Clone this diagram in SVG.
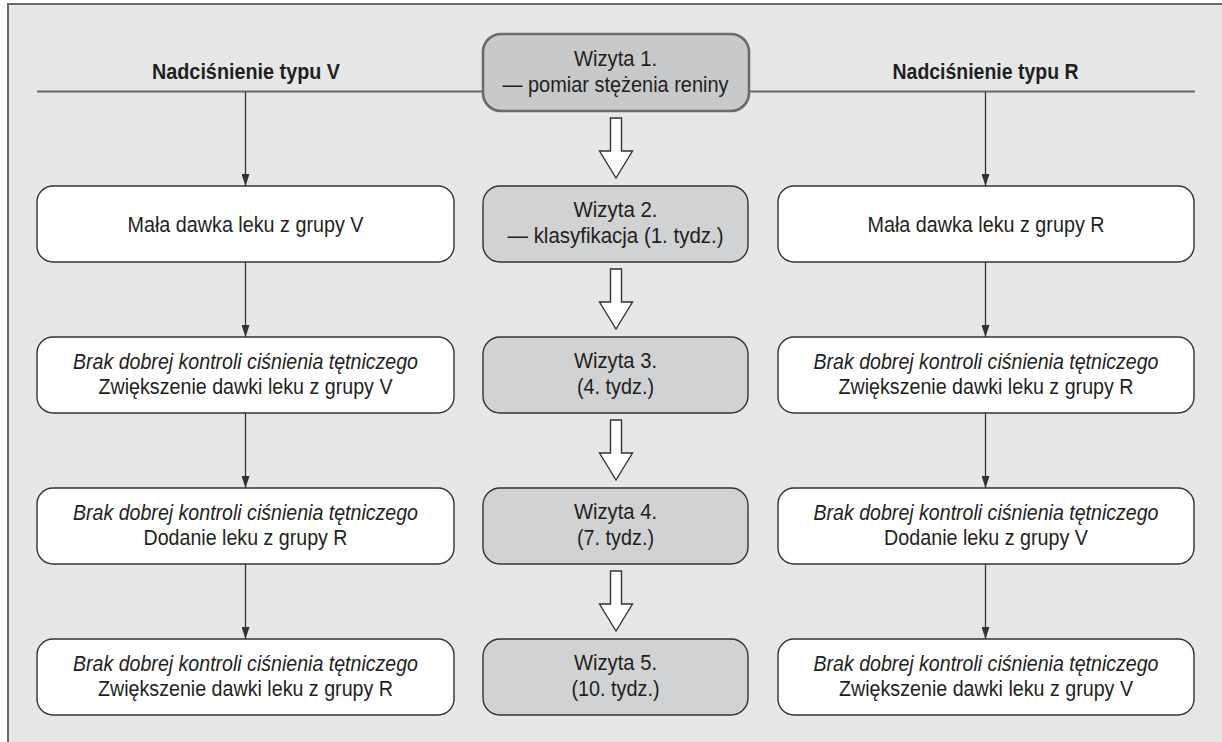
<svg xmlns="http://www.w3.org/2000/svg" xmlns:xlink="http://www.w3.org/1999/xlink" width="1222" height="742" viewBox="0 0 1222 742">
<style>
text{font-family:"Liberation Sans",Arial,sans-serif;font-size:22.5px;fill:#231f20;text-anchor:middle}
.h{font-weight:bold}
.i{font-style:italic}
.box{fill:#ffffff;stroke:#333333;stroke-width:1.4}
.gbox{fill:#d1d2d4;stroke:#333333;stroke-width:1.4}
.gbox1{fill:#c8c9cb;stroke:#6a6a6a;stroke-width:2.6}
.thin{stroke:#333333;stroke-width:1.3;fill:none;marker-end:url(#ah)}
.rule{stroke:#666666;stroke-width:2;fill:none}
.hollow{fill:#ffffff;stroke:#333333;stroke-width:1.4;stroke-linejoin:miter}
</style>
<defs>
<marker id="ah" markerUnits="userSpaceOnUse" markerWidth="12" markerHeight="8" refX="12" refY="4" orient="auto">
<path d="M0,0 L12,4 L0,8 z" fill="#333333"/>
</marker>
<path id="bigArrow" d="M-5.5,0 H5.5 V33 H16.5 L0,60 L-16.5,33 H-5.5 Z"/>
</defs>
<rect x="0" y="0" width="1222" height="742" fill="#ffffff"/>
<rect id="frame" x="8" y="4" width="1240" height="760" fill="#e6e7e9" stroke="#6a6a6a" stroke-width="2"/>

<g id="connectors">
<line class="rule" x1="37" y1="91.5" x2="1195" y2="91.5"/>
<line class="thin" x1="245.5" y1="92" x2="245.5" y2="186"/>
<line class="thin" x1="245.5" y1="262" x2="245.5" y2="337"/>
<line class="thin" x1="245.5" y1="413" x2="245.5" y2="488"/>
<line class="thin" x1="245.5" y1="564" x2="245.5" y2="639"/>
<line class="thin" x1="985.5" y1="92" x2="985.5" y2="186"/>
<line class="thin" x1="985.5" y1="262" x2="985.5" y2="337"/>
<line class="thin" x1="985.5" y1="413" x2="985.5" y2="488"/>
<line class="thin" x1="985.5" y1="564" x2="985.5" y2="639"/>
<use xlink:href="#bigArrow" class="hollow" transform="translate(616,118)"/>
<use xlink:href="#bigArrow" class="hollow" transform="translate(616,269)"/>
<use xlink:href="#bigArrow" class="hollow" transform="translate(616,420)"/>
<use xlink:href="#bigArrow" class="hollow" transform="translate(616,571)"/>
</g>

<g id="headV"><text class="h" x="246" y="79" textLength="188" lengthAdjust="spacingAndGlyphs">Nadciśnienie typu V</text></g>
<g id="headR"><text class="h" x="985.5" y="79" textLength="186" lengthAdjust="spacingAndGlyphs">Nadciśnienie typu R</text></g>

<g id="w1">
<rect class="gbox1" x="483" y="34" width="266" height="77" rx="18"/>
<text x="615.5" y="66" textLength="83" lengthAdjust="spacingAndGlyphs">Wizyta 1.</text>
<text x="615.5" y="92" textLength="226" lengthAdjust="spacingAndGlyphs">— pomiar stężenia reniny</text>
</g>
<g id="w2">
<rect class="gbox" x="483" y="186" width="265" height="76" rx="17"/>
<text x="615.5" y="217" textLength="84" lengthAdjust="spacingAndGlyphs">Wizyta 2.</text>
<text x="615.5" y="243" textLength="216" lengthAdjust="spacingAndGlyphs">— klasyfikacja (1. tydz.)</text>
</g>
<g id="w3">
<rect class="gbox" x="483" y="337" width="265" height="76" rx="17"/>
<text x="615.5" y="368" textLength="83" lengthAdjust="spacingAndGlyphs">Wizyta 3.</text>
<text x="615.5" y="394" textLength="77" lengthAdjust="spacingAndGlyphs">(4. tydz.)</text>
</g>
<g id="w4">
<rect class="gbox" x="483" y="488" width="265" height="76" rx="17"/>
<text x="615.5" y="519" textLength="83" lengthAdjust="spacingAndGlyphs">Wizyta 4.</text>
<text x="615.5" y="545" textLength="77" lengthAdjust="spacingAndGlyphs">(7. tydz.)</text>
</g>
<g id="w5">
<rect class="gbox" x="483" y="639" width="265" height="76" rx="17"/>
<text x="615.5" y="670" textLength="83" lengthAdjust="spacingAndGlyphs">Wizyta 5.</text>
<text x="615.5" y="696" textLength="88" lengthAdjust="spacingAndGlyphs">(10. tydz.)</text>
</g>

<g id="v1">
<rect class="box" x="37" y="186" width="417" height="76" rx="16"/>
<text x="245.5" y="232" textLength="236" lengthAdjust="spacingAndGlyphs">Mała dawka leku z grupy V</text>
</g>
<g id="v2">
<rect class="box" x="37" y="337" width="417" height="76" rx="16"/>
<text class="i" x="245.5" y="369" textLength="345" lengthAdjust="spacingAndGlyphs">Brak dobrej kontroli ciśnienia tętniczego</text>
<text x="245.5" y="394" textLength="294" lengthAdjust="spacingAndGlyphs">Zwiększenie dawki leku z grupy V</text>
</g>
<g id="v3">
<rect class="box" x="37" y="488" width="417" height="76" rx="16"/>
<text class="i" x="245.5" y="520" textLength="345" lengthAdjust="spacingAndGlyphs">Brak dobrej kontroli ciśnienia tętniczego</text>
<text x="245.5" y="545" textLength="204" lengthAdjust="spacingAndGlyphs">Dodanie leku z grupy R</text>
</g>
<g id="v4">
<rect class="box" x="37" y="639" width="417" height="76" rx="16"/>
<text class="i" x="245.5" y="671" textLength="345" lengthAdjust="spacingAndGlyphs">Brak dobrej kontroli ciśnienia tętniczego</text>
<text x="245.5" y="696" textLength="295" lengthAdjust="spacingAndGlyphs">Zwiększenie dawki leku z grupy R</text>
</g>

<g id="r1">
<rect class="box" x="778" y="186" width="416" height="76" rx="16"/>
<text x="986" y="232" textLength="237" lengthAdjust="spacingAndGlyphs">Mała dawka leku z grupy R</text>
</g>
<g id="r2">
<rect class="box" x="778" y="337" width="416" height="76" rx="16"/>
<text class="i" x="986" y="369" textLength="345" lengthAdjust="spacingAndGlyphs">Brak dobrej kontroli ciśnienia tętniczego</text>
<text x="986" y="394" textLength="295" lengthAdjust="spacingAndGlyphs">Zwiększenie dawki leku z grupy R</text>
</g>
<g id="r3">
<rect class="box" x="778" y="488" width="416" height="76" rx="16"/>
<text class="i" x="986" y="520" textLength="345" lengthAdjust="spacingAndGlyphs">Brak dobrej kontroli ciśnienia tętniczego</text>
<text x="986" y="545" textLength="204" lengthAdjust="spacingAndGlyphs">Dodanie leku z grupy V</text>
</g>
<g id="r4">
<rect class="box" x="778" y="639" width="416" height="76" rx="16"/>
<text class="i" x="986" y="671" textLength="345" lengthAdjust="spacingAndGlyphs">Brak dobrej kontroli ciśnienia tętniczego</text>
<text x="986" y="696" textLength="294" lengthAdjust="spacingAndGlyphs">Zwiększenie dawki leku z grupy V</text>
</g>
</svg>
